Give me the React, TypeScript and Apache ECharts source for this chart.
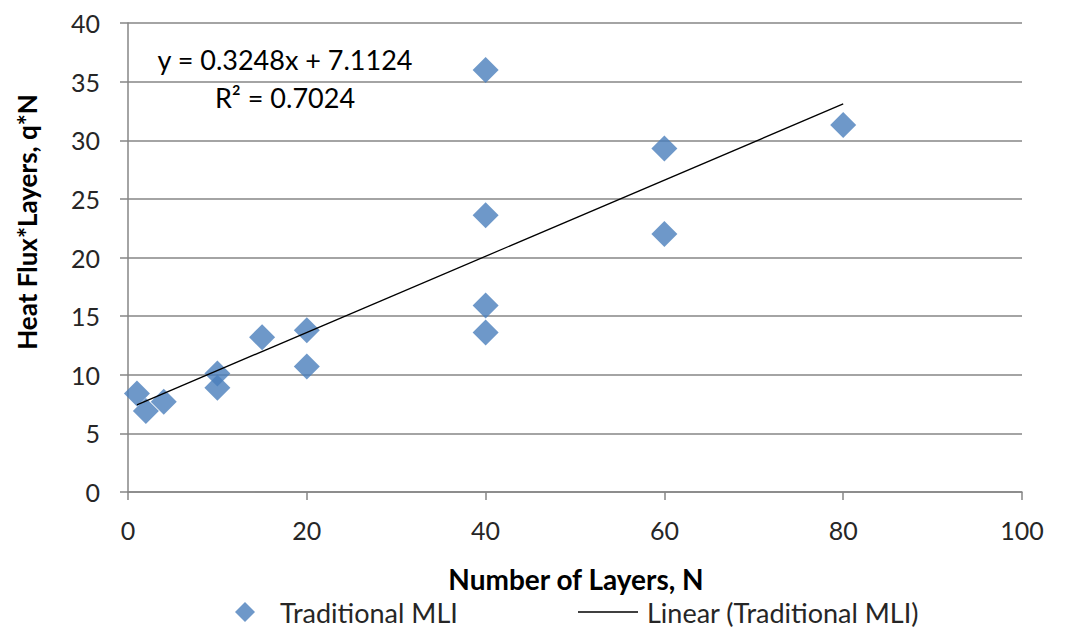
import React, { useEffect, useRef } from "react";
import * as echarts from "echarts";

const layers = [1, 2, 4, 10, 10, 15, 20, 20, 40, 40, 40, 40, 60, 60, 80];
const heatFlux = [8.4, 6.9, 7.7, 10.1, 8.9, 13.2, 13.8, 10.7, 36.0, 23.6, 15.9, 13.6, 29.3, 22.0, 31.3];
const trendSlope = 0.3248;
const trendIntercept = 7.1124;
const rSquared = 0.7024;
const seriesName = "Traditional MLI";
const trendName = "Linear (Traditional MLI)";
const xTitle = "Number of Layers, N";
const yTitle = "Heat Flux*Layers, q*N";

const FONT = "Lato, 'Open Sans', sans-serif";
const TEXT = "#262626";

export default function App() {
  const ref = useRef<HTMLDivElement>(null);
  useEffect(() => {
    if (!ref.current) return;
    const chart = echarts.init(ref.current, undefined, { renderer: "svg" });
    const xMin = Math.min(...layers);
    const xMax = Math.max(...layers);
    const trend = [
      [xMin, trendSlope * xMin + trendIntercept],
      [xMax, trendSlope * xMax + trendIntercept],
    ];
    chart.setOption({
      animation: false,
      backgroundColor: "#ffffff",
      grid: { left: 128, right: 47, top: 23, bottom: 136, containLabel: false },
      xAxis: {
        type: "value",
        min: 0,
        max: 100,
        interval: 20,
        axisLine: { show: true, lineStyle: { color: "#868686", width: 1.5 } },
        axisTick: { show: true, length: 8, lineStyle: { color: "#868686", width: 1.5 } },
        axisLabel: { fontFamily: FONT, fontSize: 25, color: TEXT, margin: 25 },
        splitLine: { show: false },
      },
      yAxis: {
        type: "value",
        min: 0,
        max: 40,
        interval: 5,
        axisLine: { show: true, lineStyle: { color: "#868686", width: 1.5 } },
        axisTick: { show: true, length: 8, lineStyle: { color: "#868686", width: 1.5 } },
        axisLabel: { fontFamily: FONT, fontSize: 25, color: TEXT, margin: 28 },
        splitLine: { show: true, lineStyle: { color: "#868686", width: 1.5 } },
      },
      legend: [
        {
          data: [seriesName],
          left: 235,
          top: 598,
          padding: 0,
          icon: "diamond",
          itemWidth: 20,
          itemHeight: 20,
          textStyle: { fontFamily: FONT, fontSize: 27, lineHeight: 28, color: TEXT, padding: [0, 0, 0, 20] },
        },
        {
          data: [trendName],
          left: 578,
          top: 598,
          padding: 0,
          icon: "rect",
          itemWidth: 60,
          itemHeight: 1.5,
          textStyle: { fontFamily: FONT, fontSize: 27, lineHeight: 28, color: TEXT, padding: [0, 0, 0, 4] },
        },
      ],
      graphic: [
        {
          type: "text",
          x: 285,
          y: 59,
          style: {
            text: `y = ${trendSlope}x + ${trendIntercept}`,
            font: `27px ${FONT}`,
            fill: "#000",
            textAlign: "center",
            textVerticalAlign: "middle",
          },
        },
        {
          type: "text",
          x: 285,
          y: 97,
          style: {
            text: `R² = ${rSquared}`,
            font: `27px ${FONT}`,
            fill: "#000",
            textAlign: "center",
            textVerticalAlign: "middle",
          },
        },
        {
          type: "text",
          x: 576,
          y: 579,
          style: {
            text: xTitle,
            font: `bold 28px ${FONT}`,
            fill: "#000",
            textAlign: "center",
            textVerticalAlign: "middle",
          },
        },
        {
          type: "text",
          x: 27,
          y: 222,
          rotation: Math.PI / 2,
          style: {
            text: yTitle,
            font: `bold 26px ${FONT}`,
            fill: "#000",
            textAlign: "center",
            textVerticalAlign: "middle",
          },
        },
      ],
      series: [
        {
          name: seriesName,
          type: "scatter",
          symbol: "diamond",
          symbolSize: [26, 26],
          itemStyle: { color: "#4A7EBB" },
          data: layers.map((x, i) => [x, heatFlux[i]]),
          z: 3,
        },
        {
          name: trendName,
          type: "line",
          symbol: "none",
          showSymbol: false,
          lineStyle: { color: "#000000", width: 1.3 },
          itemStyle: { color: "#000000" },
          data: trend,
          z: 4,
        },
      ],
    });
    return () => chart.dispose();
  }, []);
  return (
    <div
      ref={ref}
      style={{ position: "fixed", left: 0, top: 0, width: 1069, height: 628 }}
    />
  );
}
